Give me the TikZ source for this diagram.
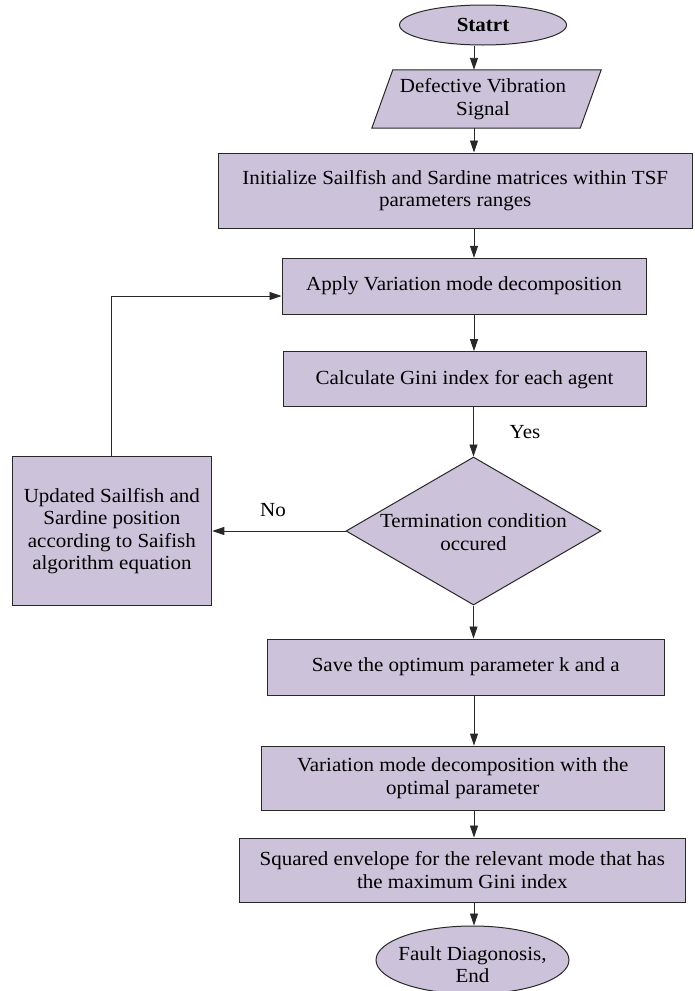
\documentclass[tikz,border=0pt]{standalone}
\usepackage{fontspec}
\setmainfont{Liberation Serif}[FakeStretch=1.05]
\usetikzlibrary{shapes.geometric,arrows.meta,calc}
\definecolor{lav}{RGB}{204,195,219}
\definecolor{edgec}{RGB}{40,40,40}
\begin{document}
\begin{tikzpicture}[x=1pt,y=-1pt,
  every node/.style={font=\fontsize{20}{22.5}\selectfont},
  box/.style={rectangle, draw=edgec, line width=1pt, fill=lav, inner sep=2pt, align=center},
  term/.style={ellipse, draw=edgec, line width=1pt, fill=lav, inner sep=0pt, align=center},
  dec/.style={diamond, draw=edgec, line width=1pt, fill=lav, inner sep=0pt},
  txt/.style={align=center, inner sep=0pt},
  arr/.style={draw=edgec, line width=0.9pt, -{Triangle[length=12pt,width=8pt]}},
  shapeline/.style={draw=edgec, line width=1pt, fill=lav}
]
\useasboundingbox (0,0) rectangle (694,991);
\coordinate (ax) at (474,0);

% start
\node[term, minimum width=167pt, minimum height=40pt] (start) at (483,25) {\bfseries Statrt};

% input parallelogram
\node[inner sep=0pt, minimum width=229pt, minimum height=58pt] (sig) at (486.5,99) {};
\draw[shapeline] ([xshift=21pt]sig.north west) -- (sig.north east) -- ([xshift=-21pt]sig.south east) -- (sig.south west) -- cycle;
\node[txt] (sigtxt) at (483,99) {Defective Vibration\\Signal};

% boxes
\node[box, minimum width=474.5pt, minimum height=75pt] (init) at (455.25,190.5) {Initialize Sailfish and Sardine matrices within TSF\\parameters ranges};
\node[box, minimum width=364pt, minimum height=55.7pt] (apply) at (464,286.2) {Apply Variation mode decomposition};
\node[box, minimum width=363pt, minimum height=55.3pt] (calc) at (464.5,379.3) {Calculate Gini index for each agent};

\node[dec, minimum width=255pt, minimum height=148pt] (dia) at (473.5,531) {};
\node[txt] (diatxt) at (473.5,532) {Termination condition\\occured};

\node[box, minimum width=199.7pt, minimum height=149pt] (upd) at (111.9,531.2) {Updated Sailfish and\\Sardine position\\according to Saifish\\algorithm equation};

\node[box, minimum width=396.7pt, minimum height=56pt] (save) at (465.7,667) {Save the optimum parameter k and a};
\node[box, minimum width=403.3pt, minimum height=64.3pt] (vmd) at (462.7,778.2) {Variation mode decomposition with the\\optimal parameter};
\node[box, minimum width=446pt, minimum height=64pt] (sq) at (462.3,870) {Squared envelope for the relevant mode that has\\the maximum Gini index};

\node[term, minimum width=193pt, minimum height=68pt] (fault) at (472.5,960) {};
\node[txt] (faulttxt) at (472.5,964.5) {Fault Diagonosis,\\End};

% labels
\node (yes) at (525,431.7) {Yes};
\node (no) at (273,510) {No};

% connectors
\draw[arr] (start.south -| ax) -- (sig.north -| ax);
\draw[arr] (sig.south -| ax) -- (init.north -| ax);
\draw[arr] (init.south -| ax) -- (apply.north -| ax);
\draw[arr] (apply.south -| ax) -- (calc.north -| ax);
\draw[arr] (calc.south -| dia.north) -- (dia.north);
\draw[arr] (dia.south) -- (save.north -| dia.south);
\draw[arr] (save.south -| ax) -- (vmd.north -| ax);
\draw[arr] (vmd.south -| ax) -- (sq.north -| ax);
\draw[arr] (sq.south -| ax) -- (fault.north -| ax);
\draw[arr] (dia.west) -- (dia.west -| upd.east);
\draw[arr] (upd.north) |- ($(apply.west)+(0,9.8)$);
\end{tikzpicture}
\end{document}
